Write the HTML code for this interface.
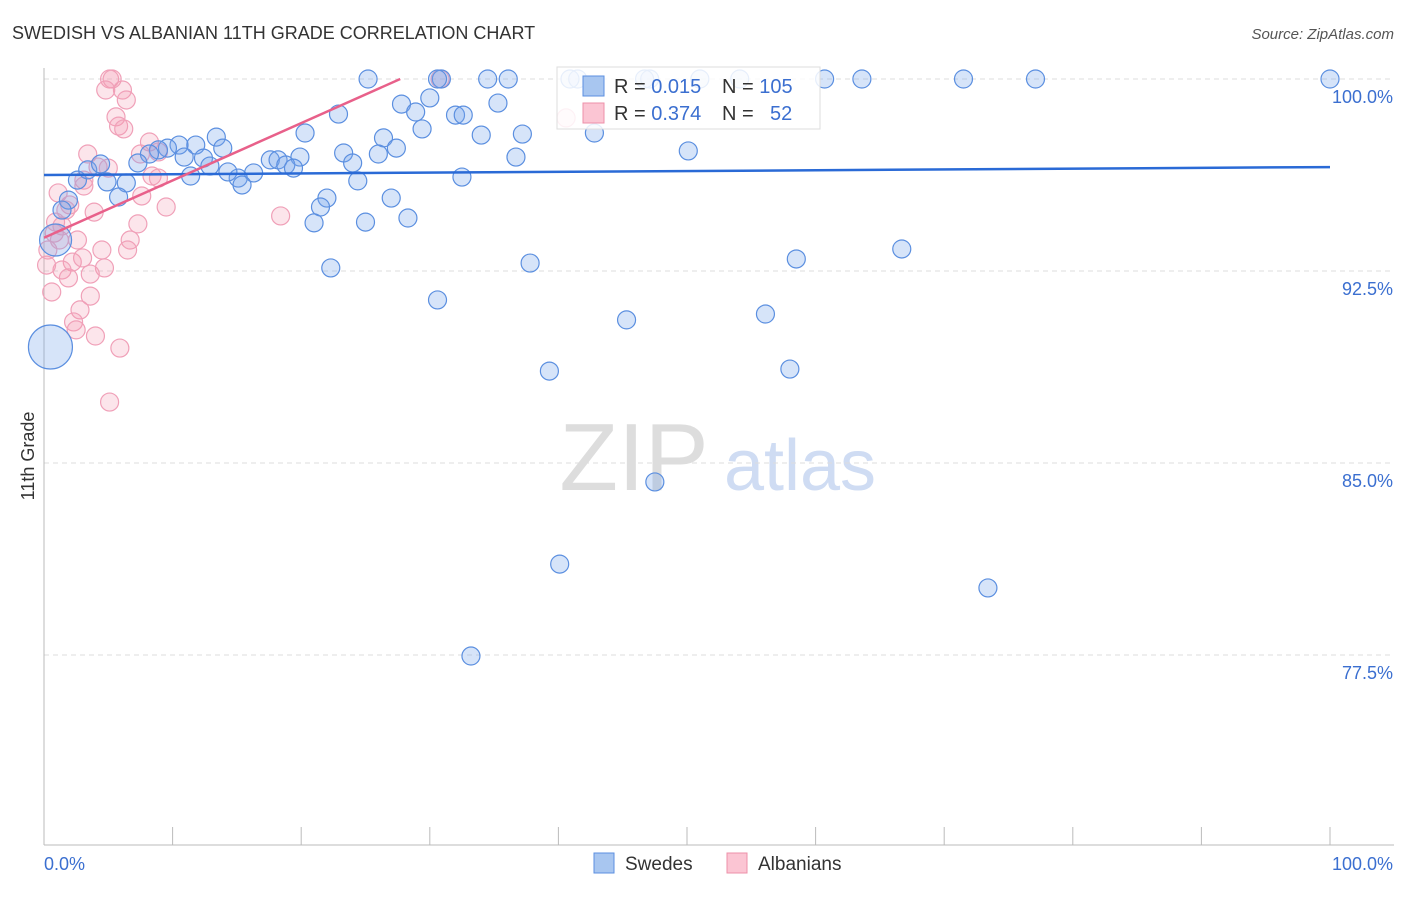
<!DOCTYPE html>
<html><head><meta charset="utf-8"><style>
body{margin:0;background:#fff;font-family:"Liberation Sans",sans-serif;}
svg text{font-family:"Liberation Sans",sans-serif;}
</style></head><body>
<svg width="1406" height="892" id="chart">
<text x="12" y="39" font-size="18" fill="#333">SWEDISH VS ALBANIAN 11TH GRADE CORRELATION CHART</text>
<text x="1394" y="39" font-size="15" fill="#555" font-style="italic" text-anchor="end">Source: ZipAtlas.com</text>
<text x="34" y="456" font-size="18" fill="#333" transform="rotate(-90 34 456)" text-anchor="middle">11th Grade</text>
<g><text x="634" y="490" font-size="96" fill="#ddd" font-family="Liberation Serif" text-anchor="middle">ZIP</text><text x="800" y="490" font-size="72" fill="#cfdcf3" text-anchor="middle">atlas</text></g>
<g id="grid"></g><g id="axes"></g><g id="pts"></g><g id="trends"></g>
<g>
<rect x="557" y="67" width="263" height="62" fill="#fff" fill-opacity="0.85" stroke="#ddd"/>
<rect x="583" y="76" width="21" height="20" fill="#a8c6f0" stroke="#5b8fe0"/>
<rect x="583" y="103" width="21" height="20" fill="#fbc5d3" stroke="#ee90a8"/>
<text x="614" y="93" font-size="20" fill="#333">R = <tspan fill="#3b6fd0">0.015</tspan><tspan x="722">N = </tspan><tspan fill="#3b6fd0">105</tspan></text>
<text x="614" y="120" font-size="20" fill="#333">R = <tspan fill="#3b6fd0">0.374</tspan><tspan x="722">N = </tspan><tspan x="770" fill="#3b6fd0">52</tspan></text>
</g>
<g>
<rect x="594" y="853" width="20" height="20" fill="#a8c6f0" stroke="#5b8fe0"/>
<text x="625" y="870" font-size="19" fill="#333">Swedes</text>
<rect x="727" y="853" width="20" height="20" fill="#fbc5d3" stroke="#ee90a8"/>
<text x="758" y="870" font-size="19" fill="#333">Albanians</text>
</g>
</svg>
<script>
const yTicks=[100,92.5,85,77.5];
const yTickLabels=["100.0%","92.5%","85.0%","77.5%"];
const xTickCount=10;
const blueX=[25.2,30.9,34.5,36.1,41.5,47.1,51.0,54.1,60.7,63.6,71.5,77.1,100,30.6,40.9,46.7,27.8,30.0,35.3,28.9,32.0,32.6,22.9,29.4,34.0,37.2,26.4,27.4,20.3,42.8,13.4,11.8,10.5,9.6,8.9,8.2,7.3,13.9,10.9,12.4,19.9,23.3,24.0,26.0,36.7,50.1,17.6,18.2,18.8,19.4,16.3,15.1,14.3,15.4,12.9,11.4,6.4,4.9,2.6,3.4,4.4,5.8,1.9,1.4,24.4,32.5,22.0,21.5,21.0,25.0,27.0,28.3,37.8,22.3,30.6,45.3,56.1,58.5,66.7,39.3,58.0,47.5,40.1,73.4,33.2,0.5,0.9];
const blueY=[100,100,100,100,100,100,100,100,100,100,100,100,100,100,100,100,99.02,99.26,99.06,98.71,98.59,98.59,98.63,98.05,97.81,97.85,97.7,97.3,97.89,97.89,97.73,97.42,97.42,97.3,97.23,97.07,96.72,97.3,96.95,96.91,96.95,97.11,96.72,97.07,96.95,97.19,96.84,96.84,96.64,96.52,96.33,96.13,96.37,95.86,96.6,96.21,95.94,95.98,96.05,96.45,96.68,95.39,95.27,94.88,96.02,96.17,95.35,95.0,94.38,94.41,95.35,94.57,92.81,92.62,91.37,90.59,90.82,92.97,93.36,88.59,88.67,84.26,81.05,80.12,77.46,89.53,93.71];
const blueR=[9,9,9,9,9,9,9,9,9,9,9,9,9,9,9,9,9,9,9,9,9,9,9,9,9,9,9,9,9,9,9,9,9,9,9,9,9,9,9,9,9,9,9,9,9,9,9,9,9,9,9,9,9,9,9,9,9,9,9,9,9,9,9,9,9,9,9,9,9,9,9,9,9,9,9,9,9,9,9,9,9,9,9,9,9,22,16];
const pinkX=[5.1,5.3,30.8,4.8,6.1,6.4,5.6,5.8,6.2,8.2,7.5,3.4,4.2,3.1,8.4,8.9,5.0,1.1,2.0,1.7,3.9,7.6,9.5,0.9,0.8,1.2,2.6,6.7,6.5,4.5,4.7,2.2,3.0,1.4,3.6,1.9,0.6,3.6,2.8,2.3,2.5,4.0,5.9,5.1,18.4,40.6,0.2,8.9,3.1,1.4,0.3,7.3];
const pinkY=[100,100,100,99.57,99.57,99.18,98.52,98.16,98.05,97.54,97.07,97.07,96.56,96.05,96.21,96.13,96.52,95.55,95.08,94.88,94.8,95.43,95.0,94.41,93.98,93.71,93.71,93.71,93.32,93.32,92.62,92.85,93.01,92.54,92.38,92.23,91.68,91.52,90.98,90.51,90.2,89.96,89.49,87.38,94.65,98.48,92.73,97.15,95.82,94.26,93.32,94.34];
const blueTrend=[96.25,96.56];
const pinkTrendX=[0,27.7];
const pinkTrendY=[93.8,100];
const NS="http://www.w3.org/2000/svg";
const X0=44,X1=1330,Ytop=79,yMaxV=100,pxPerUnit=25.6;
const sx=v=>X0+(X1-X0)*v/100;
const sy=v=>Ytop+(yMaxV-v)*pxPerUnit;
function mk(tag,attrs,parent){const e=document.createElementNS(NS,tag);for(const k in attrs)e.setAttribute(k,attrs[k]);parent.appendChild(e);return e;}
const grid=document.getElementById('grid'),axes=document.getElementById('axes'),pts=document.getElementById('pts'),tr=document.getElementById('trends');
yTicks.forEach((t,i)=>{
 const l=mk('line',{x1:X0,x2:1394,y1:sy(t),y2:sy(t),stroke:'#ddd','stroke-dasharray':'5,4'},grid);
 
 
 const tx=mk('text',{x:1393,y:sy(t)+24,'font-size':18,fill:'#3b6fd0','text-anchor':'end'},axes);
 tx.textContent=yTickLabels[i];
 
 
});
const ya=mk('line',{x1:X0,x2:X0,y1:68,y2:845,stroke:'#bbb'},axes);


const xa=mk('line',{x1:X0,x2:1394,y1:845,y2:845,stroke:'#bbb'},axes);


for(let i=0;i<=xTickCount;i++){
 const v=i*100/xTickCount;
 const t=mk('line',{x1:sx(v),x2:sx(v),y1:827,y2:845,stroke:'#bbb'},axes);
 
 
}
const xl0=mk('text',{x:44,y:870,'font-size':18,fill:'#3b6fd0'},axes);xl0.textContent='0.0%';


const xl1=mk('text',{x:1393,y:870,'font-size':18,fill:'#3b6fd0','text-anchor':'end'},axes);xl1.textContent='100.0%';


pinkX.forEach((x,i)=>{
 const c=mk('circle',{cx:sx(x),cy:sy(pinkY[i]),r:9,fill:'rgba(245,150,175,0.25)',stroke:'#f0a0b8','stroke-width':1.2},pts);
 
 
});
blueX.forEach((x,i)=>{
 const c=mk('circle',{cx:sx(x),cy:sy(blueY[i]),r:blueR[i],fill:'rgba(120,165,235,0.3)',stroke:'#5b8fe0','stroke-width':1.2},pts);
 
 
});
const bt=mk('line',{x1:sx(0),x2:sx(100),y1:sy(blueTrend[0]),y2:sy(blueTrend[1]),stroke:'#2a6ad6','stroke-width':2.5},tr);


const pt=mk('line',{x1:sx(pinkTrendX[0]),x2:sx(pinkTrendX[1]),y1:sy(pinkTrendY[0]),y2:sy(pinkTrendY[1]),stroke:'#e8608a','stroke-width':2.5},tr);


</script>
</body></html>
